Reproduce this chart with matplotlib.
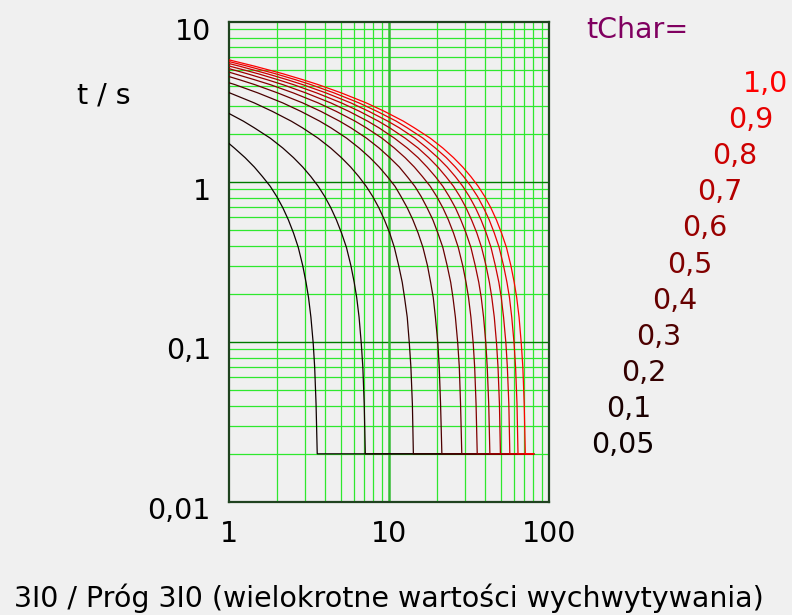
"""Logarithmic inverse-time characteristic 3I0 (tChar family), log-log."""
import matplotlib
matplotlib.use("Agg")
import matplotlib.pyplot as plt
from matplotlib.transforms import ScaledTranslation

# tChar settings, one curve each
TCHAR = [0.05, 0.1, 0.2, 0.3, 0.4, 0.5, 0.6, 0.7, 0.8, 0.9, 1.0]
TCHAR_LABELS = ["0,05", "0,1", "0,2", "0,3", "0,4", "0,5", "0,6", "0,7", "0,8", "0,9", "1,0"]

# trip time at I/Ip = 1 for each curve
T_START = [1.74, 2.68, 3.62, 4.17, 4.56, 4.86, 5.11, 5.31, 5.50, 5.66, 5.80]

# time levels (s) and the multiple of pickup where each curve crosses them
T_LEVELS = [5.30, 4.75, 4.36, 4.06, 3.60, 3.12, 2.76, 2.40, 2.18, 1.88,
            1.63, 1.42, 1.24, 1.08, 0.94, 0.81, 0.69, 0.58, 0.48, 0.39,
            0.30, 0.236, 0.19, 0.143, 0.098, 0.070, 0.041, 0.020]
N = None
X_005 = [N, N, N, N, N, N, N, N, N, N,
         1.08, 1.26, 1.44, 1.62, 1.81, 1.99, 2.17, 2.35, 2.53, 2.71,
         2.89, 3.03, 3.14, 3.25, 3.36, 3.43, 3.50, 3.56]
X_01 = [N, N, N, N, N, N, N, 1.23, 1.44, 1.81,
        2.17, 2.53, 2.89, 3.25, 3.61, 3.97, 4.33, 4.69, 5.05, 5.42,
        5.78, 6.06, 6.28, 6.50, 6.71, 6.86, 7.00, 7.11]
X_02 = [N, N, N, N, N, 1.44, 1.87, 2.45, 2.88, 3.60,
        4.32, 5.04, 5.76, 6.48, 7.20, 7.92, 8.64, 9.36, 10.1, 10.8,
        11.5, 12.1, 12.5, 13.0, 13.4, 13.7, 14.0, 14.2]
X_03 = [N, N, N, 1.09, 1.52, 2.17, 2.82, 3.69, 4.34, 5.43,
        6.51, 7.60, 8.68, 9.77, 10.9, 11.9, 13.0, 14.1, 15.2, 16.3,
        17.4, 18.2, 18.9, 19.5, 20.2, 20.6, 21.0, 21.4]
X_04 = [N, N, 1.16, 1.45, 2.02, 2.89, 3.76, 4.91, 5.78, 7.23,
        8.67, 10.1, 11.6, 13.0, 14.5, 15.9, 17.3, 18.8, 20.2, 21.7,
        23.1, 24.3, 25.1, 26.0, 26.9, 27.5, 28.0, 28.5]
X_05 = [N, 1.08, 1.44, 1.81, 2.53, 3.61, 4.69, 6.14, 7.22, 9.03,
        10.8, 12.6, 14.4, 16.2, 18.1, 19.9, 21.7, 23.5, 25.3, 27.1,
        28.9, 30.3, 31.4, 32.5, 33.6, 34.3, 35.0, 35.6]
X_06 = [N, 1.30, 1.73, 2.17, 3.03, 4.33, 5.63, 7.36, 8.66, 10.8,
        13.0, 15.2, 17.3, 19.5, 21.7, 23.8, 26.0, 28.1, 30.3, 32.5,
        34.6, 36.4, 37.7, 39.0, 40.3, 41.1, 42.0, 42.7]
X_07 = [N, 1.52, 2.02, 2.53, 3.54, 5.05, 6.57, 8.59, 10.1, 12.6,
        15.2, 17.7, 20.2, 22.7, 25.3, 27.8, 30.3, 32.8, 35.4, 37.9,
        40.4, 42.4, 43.9, 45.5, 47.0, 48.0, 49.0, 49.7]
X_08 = [1.16, 1.73, 2.31, 2.89, 4.05, 5.78, 7.51, 9.83, 11.6, 14.5,
        17.3, 20.2, 23.1, 26.0, 28.9, 31.8, 34.7, 37.6, 40.5, 43.4,
        46.2, 48.6, 50.3, 52.0, 53.8, 54.9, 56.1, 56.9]
X_09 = [1.30, 1.95, 2.60, 3.25, 4.55, 6.50, 8.45, 11.1, 13.0, 16.3,
        19.5, 22.8, 26.0, 29.3, 32.5, 35.8, 39.0, 42.3, 45.5, 48.8,
        52.0, 54.6, 56.6, 58.5, 60.5, 61.8, 63.1, 64.0]
X_10 = [1.44, 2.17, 2.89, 3.61, 5.05, 7.22, 9.39, 12.3, 14.4, 18.1,
        21.7, 25.3, 28.9, 32.5, 36.1, 39.7, 43.3, 46.9, 50.5, 54.2,
        57.8, 60.6, 62.8, 65.0, 67.1, 68.6, 70.0, 71.1]
X_CROSS = [X_005, X_01, X_02, X_03, X_04, X_05, X_06, X_07, X_08, X_09, X_10]

# minimum time floor and where it ends
T_MIN = 0.02
X_END = 80

BG = "#f0f0f0"
W, H = 792, 615
FS = 20.5

fig = plt.figure(figsize=(W / 100, H / 100), dpi=100, facecolor=BG)
ax = fig.add_axes([229 / W, (H - 502) / H, 320 / W, 480 / H], facecolor=BG)
ax.set_xscale("log"); ax.set_yscale("log")
ax.set_xlim(1, 100); ax.set_ylim(0.01, 10)

# grid
ax.grid(which="minor", color="#2ee82e", lw=0.9)
ax.grid(which="major", visible=False)
for yv in (0.1, 1):
    ax.axhline(yv, color="#007a00", lw=1.0, zorder=1)
ax.axvline(10, color="#33bb33", lw=1.8, zorder=1)
ax.set_axisbelow(True)

for tc, xc, ts in zip(TCHAR, X_CROSS, T_START):
    xs = [1] + [x for x in xc if x is not None] + [X_END]
    ys = [ts] + [t for x, t in zip(xc, T_LEVELS) if x is not None] + [T_MIN]
    ax.plot(xs, ys, color=(tc, 0, 0), lw=0.9, zorder=3)

for s in ax.spines.values():
    s.set_color("#1f421f"); s.set_linewidth(1.6)

ax.set_xticks([1, 10, 100], ["1", "10", "100"])
ax.set_yticks([0.01, 0.1, 1, 10], ["0,01", "0,1", "1", "10"])
ax.tick_params(which="both", length=0, labelsize=FS, colors="black")
ax.tick_params(axis="x", pad=13)
ax.tick_params(axis="y", pad=13)
off = ScaledTranslation(0, -6.5 / 100, fig.dpi_scale_trans)
for lab in ax.get_yticklabels():
    lab.set_transform(lab.get_transform() + off)


def px(x, y):
    return x / W, 1 - y / H


fig.text(*px(104, 96), "t / s", fontsize=FS, ha="center", va="center")
fig.text(*px(586, 38), "tChar=", fontsize=FS, color="#800060", ha="left", va="baseline")
for i, (tc, lab) in enumerate(zip(TCHAR, TCHAR_LABELS)):
    fig.text(*px(591 + 15.2 * i, 453 - 36.1 * i), lab, fontsize=FS,
             color=(tc, 0, 0), ha="left", va="baseline")
fig.text(*px(389, 607), "3I0 / Próg 3I0 (wielokrotne wartości wychwytywania)",
         fontsize=FS, ha="center", va="baseline")

fig.savefig("out.png", dpi=100, facecolor=BG)
